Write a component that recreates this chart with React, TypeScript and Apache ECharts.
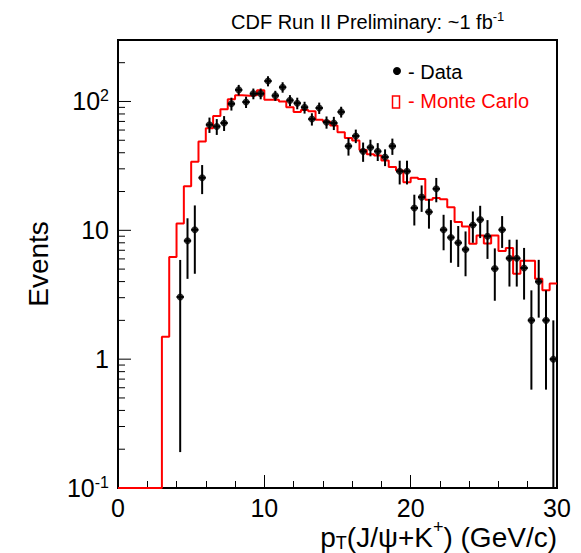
import React, { useEffect, useRef } from "react";
import * as echarts from "echarts";

// ---- Monte Carlo histogram: left bin edges and contents (0-3 GeV merged, empty) ----
const mcEdges = [
  0, 3.0, 3.5, 4.0, 4.5, 5.0, 5.5, 6.0, 6.5, 7.0, 7.5, 8.0, 8.5, 9.0, 9.5, 10.0, 10.5,
  11.0, 11.5, 12.0, 12.5, 13.0, 13.5, 14.0, 14.5, 15.0, 15.5, 16.0, 16.5, 17.0, 17.5,
  18.0, 18.5, 19.0, 19.5, 20.0, 20.5, 21.0, 21.5, 22.0, 22.5, 23.0, 23.5, 24.0, 24.5,
  25.0, 25.5, 26.0, 26.5, 27.0, 27.5, 28.0, 28.5, 29.0, 29.5,
];
const mcUpperEdge = 30;
const mcValues = [
  0, 1.49, 6.2, 11.3, 22, 34, 49, 62, 77, 87, 104, 112, 111, 112, 122, 103, 103,
  100, 90, 83, 86, 84, 72, 70, 65, 57.6, 52, 49.7, 42, 39, 38,
  34.8, 31, 29.1, 23.6, 25.6, 25, 17.3, 17.8, 17.4, 15.1, 11.6, 10.7, 7.87, 9.1,
  7.9, 9.1, 6.9, 7.3, 4.6, 5.8, 5.8, 4.2, 3.43, 3.86,
];

// ---- Data points: bin centres, contents, symmetric errors ----
const dataX = [
  4.25, 4.75, 5.25, 5.75, 6.25, 6.75, 7.25, 7.75, 8.25, 8.75, 9.25, 9.75, 10.25, 10.75,
  11.25, 11.75, 12.25, 12.75, 13.25, 13.75, 14.25, 14.75, 15.25, 15.75, 16.25, 16.75,
  17.25, 17.75, 18.25, 18.75, 19.25, 19.75, 20.25, 20.75, 21.25, 21.75, 22.25, 22.75,
  23.25, 23.75, 24.25, 24.75, 25.25, 25.75, 26.25, 26.75, 27.25, 27.75, 28.25, 28.75,
  29.25, 29.75,
];
const dataY = [
  3.04, 8.3, 10.1, 25.6, 66, 64, 68, 96, 123, 99, 115, 115, 144, 111,
  129, 102, 97, 90, 73, 89, 69, 68, 83, 45, 54, 41,
  44, 41, 37, 45, 28.7, 28.7, 14.9, 18.1, 13.9, 21, 10.1, 8.8,
  8.0, 7.1, 11.0, 12.1, 9.0, 5.04, 10.1, 6.06, 6.06, 5.1, 2.0, 4.0,
  2.0, 1.0,
];
const dataErr = [
  2.85, 4.1, 5.5, 6.5, 9, 9, 9, 11, 11.5, 10, 11, 11, 13, 10,
  12, 10, 10, 9.5, 8, 9, 7.5, 8, 8, 7, 6.5, 7,
  6.5, 6.5, 5.5, 6.5, 6, 6, 4, 4.2, 3.6, 4.5, 3.1, 3.2,
  2.8, 2.7, 3, 3.4, 3, 2.2, 2.8, 2.4, 2.4, 2.2, 1.42, 1.9,
  1.42, 1.0,
];
const binHalfWidth = 0.25;

// ---- Axes ----
const X_MIN = 0;
const X_MAX = 30;
const Y_MIN = 0.1;
const Y_MAX = 300;
const yMajorTicks = [0.1, 1, 10, 100];
const yMinorTicks = [
  0.2, 0.3, 0.4, 0.5, 0.6, 0.7, 0.8, 0.9,
  2, 3, 4, 5, 6, 7, 8, 9,
  20, 30, 40, 50, 60, 70, 80, 90,
  200,
];
const yLabelText: Record<string, string> = {
  "-1": "{b|10}{s|-1}",
  "0": "{b|1}",
  "1": "{b|10}",
  "2": "{b|10}{s|2}",
};

// x-axis title pieces: text, font size, vertical shift (sub/superscript)
const xTitleParts: [string, number, number][] = [
  ["p", 28, 0],
  ["T", 18, 6],
  ["(J/ψ+K", 28, 0],
  ["+", 18, -10],
  [") (GeV/c)", 28, 0],
];

const FONT = "'Liberation Sans', Arial, Helvetica, sans-serif";

function measure(text: string, size: number): number {
  const c = document.createElement("canvas").getContext("2d");
  if (!c) return text.length * size * 0.55;
  c.font = `${size}px ${FONT}`;
  return c.measureText(text).width;
}

export default function App() {
  const ref = useRef<HTMLDivElement>(null);

  useEffect(() => {
    if (!ref.current) return;
    const chart = echarts.init(ref.current, null, { renderer: "svg" });

    const mcLine: number[][] = mcEdges.map((e, i) => [e, mcValues[i] > 0 ? mcValues[i] : Y_MIN]);
    mcLine.push([mcUpperEdge, mcValues[mcValues.length - 1]]);

    const points = dataX.map((x, i) => [x, dataY[i], dataErr[i]]);
    const ticks = [
      ...yMajorTicks.map((v) => [X_MIN, v, 1]),
      ...yMinorTicks.map((v) => [X_MIN, v, 0]),
    ];

    // x-axis title laid out right-aligned at the plot's right edge
    const titleRight = 557;
    const titleMid = 537;
    const widths = xTitleParts.map(([t, s]) => measure(t, s));
    const total = widths.reduce((a, b) => a + b, 0);
    let cursor = titleRight - total;
    const xTitle = xTitleParts.map(([t, s, dy], i) => {
      const el = {
        type: "text",
        x: cursor,
        y: titleMid + dy,
        style: { text: t, font: `${s}px ${FONT}`, fill: "#000", verticalAlign: "middle" },
      };
      cursor += widths[i];
      return el;
    });

    const option: any = {
      animation: false,
      backgroundColor: "#fff",
      textStyle: { fontFamily: FONT },
      grid: {
        left: 118,
        right: 24,
        top: 40,
        bottom: 65,
        show: true,
        borderColor: "#000",
        borderWidth: 2,
        backgroundColor: "transparent",
      },
      xAxis: {
        type: "value",
        min: X_MIN,
        max: X_MAX,
        interval: 10,
        axisLine: { show: true, onZero: false, lineStyle: { color: "#000", width: 2 } },
        axisTick: { show: true, inside: true, length: 13, lineStyle: { color: "#000", width: 1 } },
        minorTick: { show: true, splitNumber: 5, length: 7, lineStyle: { color: "#000", width: 1 } },
        axisLabel: { fontSize: 25, color: "#000", margin: 7, fontFamily: FONT },
        splitLine: { show: false },
        minorSplitLine: { show: false },
      },
      yAxis: {
        type: "log",
        logBase: 10,
        min: Y_MIN,
        max: Y_MAX,
        name: "Events",
        nameLocation: "middle",
        nameRotate: 90,
        nameGap: 66,
        nameTextStyle: { fontSize: 28, color: "#000", fontFamily: FONT },
        axisLine: { show: true, lineStyle: { color: "#000", width: 2 } },
        axisTick: { show: false },
        splitLine: { show: false },
        axisLabel: {
          margin: 9,
          color: "#000",
          showMaxLabel: false,
          formatter: (v: number) => {
            const k = String(Math.round(Math.log10(v) * 1000) / 1000);
            return yLabelText[k] ?? "";
          },
          rich: {
            b: { fontSize: 25, fontFamily: FONT, color: "#000", lineHeight: 28 },
            s: { fontSize: 16, fontFamily: FONT, color: "#000", verticalAlign: "top", lineHeight: 16 },
          },
        },
      },
      series: [
        {
          type: "line",
          name: "Monte Carlo",
          data: mcLine,
          step: "end",
          symbol: "none",
          clip: false,
          lineStyle: { color: "#ff0000", width: 2 },
          z: 2,
        },
        {
          type: "custom",
          name: "yticks",
          data: ticks,
          encode: { x: 0, y: 1 },
          silent: true,
          z: 1,
          renderItem: (params: any, api: any) => {
            const p = api.coord([api.value(0), api.value(1)]);
            const len = api.value(2) === 1 ? 13 : 7;
            return {
              type: "line",
              shape: { x1: p[0], y1: p[1], x2: p[0] + len, y2: p[1] },
              style: { stroke: "#000", lineWidth: 1 },
            };
          },
        },
        {
          type: "custom",
          name: "Data errors",
          data: points,
          encode: { x: 0, y: 1 },
          z: 3,
          renderItem: (params: any, api: any) => {
            const x = api.value(0);
            const y = api.value(1);
            const e = api.value(2);
            const top = api.coord([x, y + e]);
            const bot = api.coord([x, Math.max(y - e, Y_MIN)]);
            const l = api.coord([x - binHalfWidth, y]);
            const r = api.coord([x + binHalfWidth, y]);
            return {
              type: "group",
              children: [
                {
                  type: "line",
                  shape: { x1: top[0], y1: top[1], x2: bot[0], y2: bot[1] },
                  style: { stroke: "#000", lineWidth: 2 },
                },
                {
                  type: "line",
                  shape: { x1: l[0], y1: l[1], x2: r[0], y2: r[1] },
                  style: { stroke: "#000", lineWidth: 2 },
                },
              ],
            };
          },
        },
        {
          type: "scatter",
          name: "Data",
          data: points.map((p) => [p[0], p[1]]),
          symbol: "circle",
          symbolSize: 7,
          itemStyle: { color: "#000" },
          z: 4,
        },
      ],
      graphic: [
        {
          type: "text",
          x: 231,
          y: 22,
          style: {
            text: "{t|CDF Run II Preliminary: ~1 fb}{s|-1}",
            verticalAlign: "middle",
            rich: {
              t: { fontSize: 20, fontFamily: FONT, fill: "#000", lineHeight: 24 },
              s: { fontSize: 13, fontFamily: FONT, fill: "#000", verticalAlign: "top", lineHeight: 13 },
            },
          },
        },
        {
          type: "circle",
          shape: { cx: 397, cy: 71, r: 4 },
          style: { fill: "#000" },
        },
        {
          type: "text",
          x: 408,
          y: 72,
          style: { text: "- Data", font: `20px ${FONT}`, fill: "#000", verticalAlign: "middle" },
        },
        {
          type: "rect",
          shape: { x: 392.5, y: 96, width: 7, height: 12 },
          style: { fill: "none", stroke: "#ff0000", lineWidth: 1.5 },
        },
        {
          type: "text",
          x: 408,
          y: 101,
          style: { text: "- Monte Carlo", font: `20px ${FONT}`, fill: "#ff0000", verticalAlign: "middle" },
        },
        ...xTitle,
      ],
    };

    chart.setOption(option);
    return () => chart.dispose();
  }, []);

  return (
    <div
      ref={ref}
      style={{ position: "absolute", left: 0, top: 0, width: 581, height: 553, background: "#fff" }}
    />
  );
}
